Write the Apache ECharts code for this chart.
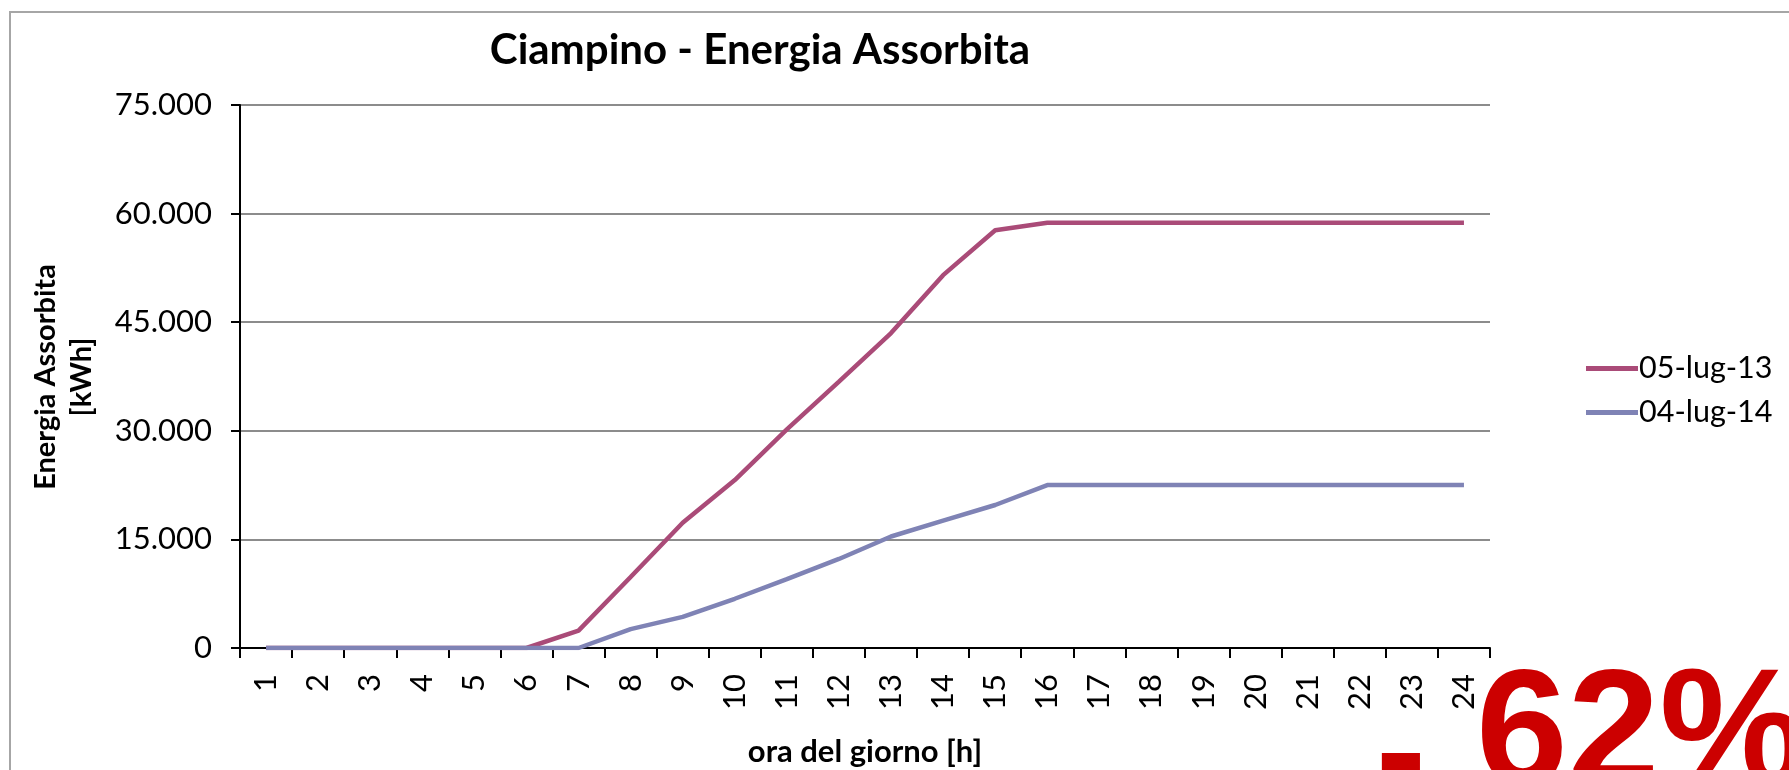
<!DOCTYPE html>
<html>
<head>
<meta charset="utf-8">
<script src="https://cdn.jsdelivr.net/npm/echarts@6/dist/echarts.min.js"></script>
<style>
html,body{margin:0;padding:0;background:#fff;}
#chart{width:1789px;height:770px;}
</style>
</head>
<body>
<div id="chart"></div>
<script>
const hours = ['1','2','3','4','5','6','7','8','9','10','11','12','13','14','15','16','17','18','19','20','21','22','23','24'];
const serie2013 = [0,0,0,0,0,0,2400,9800,17300,23200,30200,36800,43500,51500,57700,58750,58750,58750,58750,58750,58750,58750,58750,58750];
const serie2014 = [0,0,0,0,0,0,0,2600,4300,6800,9500,12300,15400,17600,19750,22500,22500,22500,22500,22500,22500,22500,22500,22500];
const seriesNames = ['05-lug-13','04-lug-14'];
const titleText = 'Ciampino - Energia Assorbita';
const yTitle = 'Energia Assorbita\n[kWh]';
const xTitle = 'ora del giorno [h]';
const badgeDash = '-';
const badgeValue = '62%';

const chart = echarts.init(document.getElementById('chart'));
const FONT = 'Lato';
function fmt(v){
  if (v === 0) return '0';
  const s = String(Math.round(v));
  return s.replace(/\B(?=(\d{3})+(?!\d))/g, '.');
}
chart.setOption({
  animation: false,
  backgroundColor: '#ffffff',
  grid: {left: 240, right: 299, top: 105, bottom: 122, containLabel: false},
  legend: {
    orient: 'vertical', left: 1581, top: 348,
    icon: 'rect', itemWidth: 52, itemHeight: 5, itemGap: 13,
    textStyle: {fontFamily: FONT, fontSize: 30.5, color: '#000', lineHeight: 31, padding: [0,0,0,-4]},
    data: seriesNames
  },
  xAxis: {
    type: 'category', data: hours, boundaryGap: true,
    axisLine: {lineStyle: {color: '#000', width: 2}},
    axisTick: {show: true, interval: 0, length: 10, lineStyle: {color: '#000', width: 2}},
    axisLabel: {interval: 0, rotate: 90, margin: 26, fontFamily: FONT, fontSize: 31, color: '#000'},
    splitLine: {show: false}
  },
  yAxis: {
    type: 'value', min: 0, max: 75000, interval: 15000,
    axisLine: {show: true, lineStyle: {color: '#000', width: 2}},
    axisTick: {show: true, length: 9, lineStyle: {color: '#000', width: 2}},
    axisLabel: {margin: 28, fontFamily: FONT, fontSize: 31, color: '#000', formatter: fmt},
    splitLine: {show: true, lineStyle: {color: '#8c8c8c', width: 2}}
  },
  series: [
    {name: seriesNames[0], type: 'line', data: serie2013, symbol: 'none', lineStyle: {color: '#AA4B78', width: 4.5}, itemStyle: {color: '#AA4B78'}},
    {name: seriesNames[1], type: 'line', data: serie2014, symbol: 'none', lineStyle: {color: '#7F83B5', width: 4.5}, itemStyle: {color: '#7F83B5'}}
  ],
  graphic: [
    {type: 'rect', z: -1, silent: true, shape: {x: 10, y: 12, width: 1900, height: 900}, style: {fill: 'none', stroke: '#a6a6a6', lineWidth: 2}},
    {type: 'text', x: 760, y: 50, style: {text: titleText, font: 'bold 42px Lato', fill: '#000', align: 'center', verticalAlign: 'middle'}},
    {type: 'text', x: 865, y: 752, style: {text: xTitle, font: 'bold 31px Lato', fill: '#000', align: 'center', verticalAlign: 'middle'}},
    {type: 'text', x: 64, y: 377, rotation: Math.PI/2, style: {text: yTitle, font: 'bold 29px Lato', lineHeight: 36, fill: '#000', align: 'center', verticalAlign: 'middle'}},
    {type: 'text', x: 1376, y: 760, z: 10, style: {text: badgeDash, font: 'bold 150px "Liberation Sans"', fill: '#CC0000', align: 'left', verticalAlign: 'middle'}},
    {type: 'text', x: 1476, y: 738, z: 10, style: {text: badgeValue, font: 'bold 165px "Liberation Sans"', fill: '#CC0000', align: 'left', verticalAlign: 'middle'}}
  ]
});
</script>
</body>
</html>
